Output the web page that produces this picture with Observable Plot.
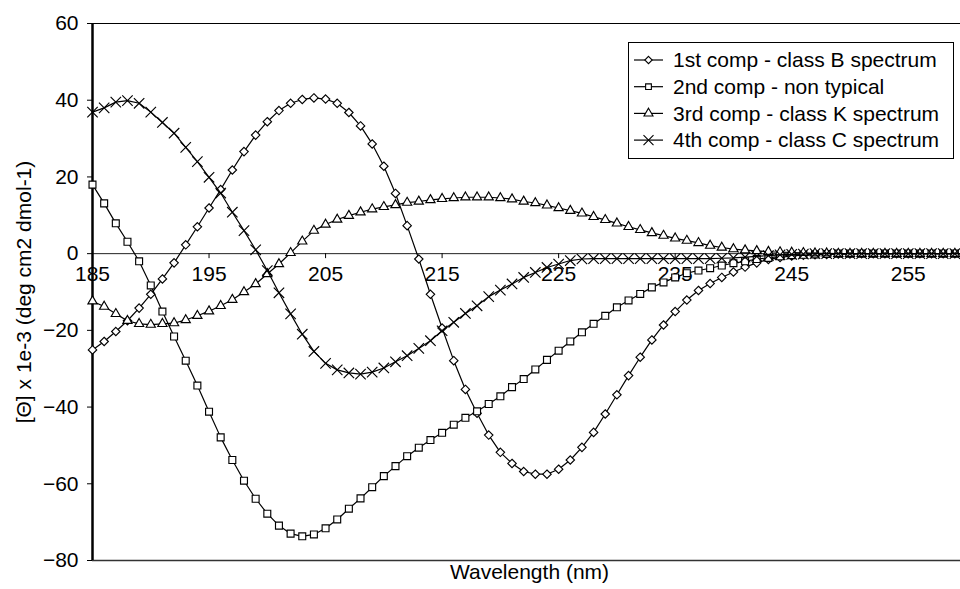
<!DOCTYPE html>
<html><head><meta charset="utf-8">
<script src="https://cdn.jsdelivr.net/npm/d3@7"></script>
<script src="https://cdn.jsdelivr.net/npm/@observablehq/plot@0.6"></script>
<style>
html,body{margin:0;padding:0;background:#fff;overflow:hidden;}
#wrap{position:relative;width:960px;height:589px;overflow:hidden;}
#legend{position:absolute;left:0;top:0;pointer-events:none;}
</style></head><body><div id="wrap"></div>
<script>
const wavelengths = [185,186,187,188,189,190,191,192,193,194,195,196,197,198,199,200,201,202,203,204,205,206,207,208,209,210,211,212,213,214,215,216,217,218,219,220,221,222,223,224,225,226,227,228,229,230,231,232,233,234,235,236,237,238,239,240,241,242,243,244,245,246,247,248,249,250,251,252,253,254,255,256,257,258,259,260];

const comp1 = [-25.1,-22.9,-20.3,-17.5,-14.2,-10.6,-6.6,-2.4,2.3,7.0,
  11.9,16.7,21.8,26.6,30.9,34.4,37.3,39.2,40.2,40.6,
  40.3,39.2,36.8,33.3,28.6,22.8,15.7,7.3,-1.4,-10.6,
  -19.4,-27.9,-35.4,-41.6,-47.3,-51.8,-54.7,-56.8,-57.5,-57.5,
  -56.2,-53.8,-50.5,-46.6,-41.8,-36.8,-31.8,-27.0,-22.5,-18.6,
  -15.1,-12.1,-9.6,-7.8,-6.2,-4.8,-3.5,-2.4,-1.5,-1.0,
  -0.6,-0.4,-0.3,-0.2,-0.1,-0.1,0,0,0,0,
  0,0,0,0,0,0];
const comp2 = [18.0,13.1,7.9,3.1,-2.0,-8.3,-15.1,-21.6,-27.9,-34.4,
  -41.2,-47.9,-53.8,-59.2,-63.9,-67.8,-70.9,-73.0,-73.7,-73.2,
  -71.6,-69.3,-66.5,-63.8,-60.9,-58.0,-55.4,-52.8,-50.6,-48.6,
  -46.7,-44.6,-42.8,-41.1,-39.2,-37.2,-34.8,-32.7,-30.2,-27.7,
  -25.3,-22.9,-20.5,-18.3,-16.2,-14.0,-12.2,-10.5,-8.8,-7.5,
  -6.2,-5.1,-4.4,-3.8,-3.1,-2.5,-2.0,-1.4,-1.1,-0.7,
  -0.4,-0.3,-0.2,-0.1,0,0,0,0,0,0,
  0,0,0,0,0,0];
const comp3 = [-12.4,-13.8,-15.7,-17.5,-18.3,-18.5,-18.3,-18.1,-17.3,-16.2,
  -15.0,-13.6,-12.0,-10.0,-7.9,-5.3,-2.7,0.2,3.2,6.0,
  7.6,8.9,9.9,10.8,11.6,12.2,12.7,13.3,13.6,14.0,
  14.3,14.5,14.7,14.7,14.7,14.5,14.2,13.6,13.2,12.6,
  11.9,11.2,10.5,9.6,8.8,7.9,7.0,6.2,5.4,4.7,
  4.0,3.4,2.8,2.1,1.6,1.2,0.9,0.7,0.5,0.4,
  0.3,0.2,0.1,0.1,0,0,0,0,0,0,
  0,0,0,0,0,0];
const comp4 = [36.9,38.0,39.5,39.9,39.2,36.9,34.2,31.4,27.7,24.0,
  19.9,15.8,10.8,6.0,1.0,-4.4,-10.2,-15.7,-21.0,-25.5,
  -28.6,-30.3,-31.1,-31.4,-30.9,-29.8,-28.2,-26.6,-24.7,-22.7,
  -20.1,-17.9,-15.6,-13.6,-11.2,-9.5,-7.9,-6.2,-4.9,-3.6,
  -2.7,-1.8,-1.4,-1.3,-1.3,-1.3,-1.3,-1.3,-1.3,-1.3,
  -1.3,-1.3,-1.3,-1.3,-1.2,-1.1,-0.9,-0.7,-0.5,-0.3,
  -0.2,-0.1,0,0,0,0,0,0,0,0,
  0,0,0,0,0,0];

const seriesNames = ["1st comp - class B spectrum","2nd comp - non typical","3rd comp - class K spectrum","4th comp - class C spectrum"];
const seriesSymbols = ["diamond2","square2","triangle2","times"];
const seriesR = [3.8, 4.4, 4.4, 4.8];
const xTicks = [185,195,205,215,225,235,245,255];
const yTicks = [-80,-60,-40,-20,0,20,40,60];
const xTitle = "Wavelength (nm)";
const yTitle = "[Θ] x 1e-3 (deg cm2 dmol-1)";

const allSeries = [comp1, comp2, comp3, comp4];
const seriesMarks = allSeries.flatMap((vals, k) => [
  Plot.line(wavelengths, {x: d => d, y: (d, i) => vals[i], stroke: "black", strokeWidth: 1.2}),
  Plot.dot(wavelengths, {x: d => d, y: (d, i) => vals[i], symbol: seriesSymbols[k], r: seriesR[k],
    stroke: "black", strokeWidth: 1.15, fill: seriesSymbols[k] === "times" ? "none" : "white"})
]);

const chart = Plot.plot({
  width: 960, height: 589,
  marginLeft: 92, marginRight: -6, marginTop: 23, marginBottom: 29,
  style: {fontFamily: "'Liberation Sans', Arial, sans-serif", fontSize: "21px", background: "white", color: "black"},
  x: {domain: [185, 260], axis: null},
  y: {domain: [-80, 60]},
  marks: [
    Plot.ruleY([60], {stroke: "black", strokeWidth: 1}),
    Plot.ruleY([-80], {stroke: "#333", strokeWidth: 1.3}),
    Plot.ruleY([0], {stroke: "#222", strokeWidth: 1}),
    Plot.ruleX(xTicks, {x: d => d, y1: 0, y2: 0, insetBottom: -5, stroke: "black", strokeWidth: 1}),
    Plot.text(xTicks, {x: d => d, y: 0, text: d => String(d), dy: 21, fontSize: 21, fill: "black"}),
    Plot.axisY(yTicks, {anchor: "left", tickSize: 5, tickPadding: 9, fontSize: 21, label: null, stroke: "black"}),
    Plot.ruleX([185], {stroke: "black", strokeWidth: 2.5}),
    Plot.text([yTitle], {frameAnchor: "left", textAnchor: "middle", dx: -68, rotate: -90, fontSize: 21, fill: "black"}),
    Plot.text([xTitle], {frameAnchor: "bottom", textAnchor: "middle", dy: 18, fontSize: 21, fill: "black"}),
    ...seriesMarks
  ]
});
document.getElementById("wrap").appendChild(chart);

// Legend
const lg = d3.select("#wrap").append("svg").attr("id", "legend").attr("width", 960).attr("height", 589)
  .style("font-family", "'Liberation Sans', Arial, sans-serif");
lg.append("rect").attr("x", 628.5).attr("y", 42.5).attr("width", 325).attr("height", 116)
  .attr("fill", "white").attr("stroke", "black").attr("stroke-width", 1);
const symMap = {diamond2: d3.symbolDiamond2, square2: d3.symbolSquare2, triangle2: d3.symbolTriangle2, times: d3.symbolTimes};
const legSizes = [35, 42, 58, 67];
seriesNames.forEach((name, i) => {
  const cy = 60 + i * 26.7;
  lg.append("line").attr("x1", 634).attr("x2", 663).attr("y1", cy).attr("y2", cy).attr("stroke", "black").attr("stroke-width", 1.2);
  lg.append("path").attr("d", d3.symbol(symMap[seriesSymbols[i]], legSizes[i])())
    .attr("transform", `translate(648.5,${cy})`).attr("fill", seriesSymbols[i] === "times" ? "none" : "white")
    .attr("stroke", "black").attr("stroke-width", 1.1);
  lg.append("text").attr("x", 673).attr("y", cy).attr("dy", "0.35em").attr("font-size", 21).attr("fill", "black").text(name);
});
</script></body></html>
